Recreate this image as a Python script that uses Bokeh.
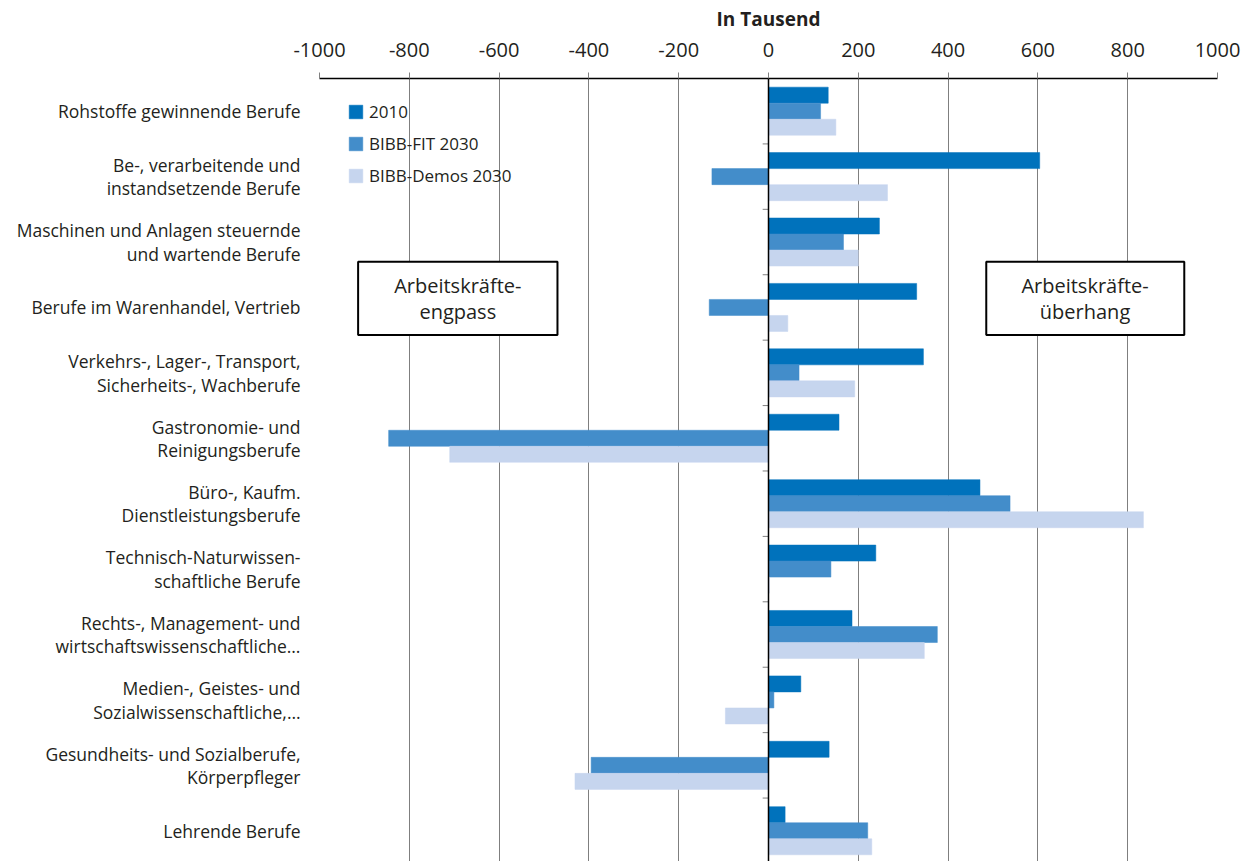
from bokeh.plotting import figure
from bokeh.models import (ColumnDataSource, FixedTicker, Range1d, Span, BoxAnnotation,
                          Label, Legend, LegendItem)
from bokeh.embed import file_html
from bokeh.resources import INLINE

# Occupational fields (top to bottom)
categories = [
    "Rohstoffe gewinnende Berufe",
    "Be-, verarbeitende und\ninstandsetzende Berufe",
    "Maschinen und Anlagen steuernde\nund wartende Berufe",
    "Berufe im Warenhandel, Vertrieb",
    "Verkehrs-, Lager-, Transport,\nSicherheits-, Wachberufe",
    "Gastronomie- und\nReinigungsberufe",
    "Büro-, Kaufm.\nDienstleistungsberufe",
    "Technisch-Naturwissen-\nschaftliche Berufe",
    "Rechts-, Management- und\nwirtschaftswissenschaftliche…",
    "Medien-, Geistes- und\nSozialwissenschaftliche,…",
    "Gesundheits- und Sozialberufe,\nKörperpfleger",
    "Lehrende Berufe",
]

# Balance of labour supply and demand, in thousands
series_names = ["2010", "BIBB-FIT 2030", "BIBB-Demos 2030"]
values_2010 = [133, 604, 247, 330, 345, 157, 471, 239, 186, 72, 135, 37]
values_fit = [116, -126, 167, -132, 68, -846, 538, 139, 376, 12, -395, 221]
values_demos = [150, 265, 200, 43, 192, -710, 835, 2, 347, -96, -431, 230]

x_ticks = [-1000, -800, -600, -400, -200, 0, 200, 400, 600, 800, 1000]
x_title = "In Tausend"
box_texts = ["Arbeitskräfte-\nengpass", "Arbeitskräfte-\nüberhang"]

colors = ["#0072bc", "#438dca", "#c6d5ee"]
FONT = "Open Sans"
TEXT = "#231f20"

n = len(categories)
idx = list(range(n))
bar_h = 0.245

p = figure(width=1248, height=861, output_backend="svg", toolbar_location=None,
           x_range=Range1d(-1000, 1000), y_range=Range1d(n - 0.53, -0.5),
           x_axis_location="above",
           min_border_left=319, min_border_right=31, min_border_top=78,
           min_border_bottom=0)
p.outline_line_color = None
p.background_fill_color = "white"

# top value axis
xa = p.xaxis[0]
xa.ticker = FixedTicker(ticks=x_ticks)
xa.major_label_overrides = {t: str(t) for t in x_ticks}
xa.axis_label = x_title
xa.axis_label_text_font = FONT
xa.axis_label_text_font_style = "bold"
xa.axis_label_text_font_size = "19px"
xa.axis_label_text_color = TEXT
xa.axis_label_standoff = 8
xa.major_label_text_font = FONT
xa.major_label_text_font_size = "20px"
xa.major_label_text_color = TEXT
xa.major_label_standoff = 16
xa.axis_line_color = "black"
xa.axis_line_width = 1.5
xa.major_tick_out = 6
xa.major_tick_in = 0
xa.major_tick_line_color = "#808080"
xa.minor_tick_line_color = None

# category axis
ya = p.yaxis[0]
ya.ticker = FixedTicker(ticks=idx)
ya.major_label_overrides = {i: c for i, c in enumerate(categories)}
ya.major_label_text_font = FONT
ya.major_label_text_font_size = "17.5px"
ya.major_label_text_color = TEXT
ya.major_label_text_align = "center"
ya.major_label_text_line_height = 0.97
ya.major_label_standoff = 13
ya.axis_line_color = None
ya.major_tick_line_color = None
ya.minor_tick_line_color = None

p.xgrid.ticker = FixedTicker(ticks=x_ticks)
p.xgrid.grid_line_color = "#7f7f7f"
p.xgrid.grid_line_width = 1
p.ygrid.grid_line_color = None

src = ColumnDataSource(dict(
    y0=[i - bar_h for i in idx], y1=idx, y2=[i + bar_h for i in idx],
    v0=values_2010, v1=values_fit, v2=values_demos,
))

renderers = []
for k, (ycol, vcol) in enumerate([("y0", "v0"), ("y1", "v1"), ("y2", "v2")]):
    r = p.hbar(y=ycol, right=vcol, left=0, height=bar_h, source=src,
               fill_color=colors[k], line_color=colors[k], line_width=0.5)
    renderers.append(r)

# zero line with small category separators
p.add_layout(Span(location=0, dimension="height", line_color="black", line_width=1.5))
bounds = [i - 0.5 for i in range(n + 1)]
p.segment(x0=[-13] * len(bounds), x1=[0] * len(bounds), y0=bounds, y1=bounds,
          line_color="#808080", line_width=1)

# annotation boxes
for (l, r_, cx), txt in zip([(-914, -470, -692), (485, 926, 705)], box_texts):
    p.add_layout(BoxAnnotation(left=l, right=r_, top=2.30, bottom=3.42,
                               fill_color="white", fill_alpha=1,
                               line_color="black", line_alpha=1, line_width=2))
    p.add_layout(Label(x=cx, y=2.86, text=txt, text_align="center",
                       text_baseline="middle", text_font=FONT,
                       text_font_size="20px", text_color=TEXT,
                       text_line_height=0.955))

legend = Legend(items=[LegendItem(label=s, renderers=[r])
                       for s, r in zip(series_names, renderers)],
                location=(28, 674), padding=0, margin=0, spacing=9,
                glyph_width=17, glyph_height=17, label_height=20,
                label_standoff=5, label_text_font=FONT,
                label_text_font_size="17px", label_text_color=TEXT,
                border_line_color=None, background_fill_alpha=0)
p.add_layout(legend)

open("out.html", "w").write(file_html(p, INLINE))
